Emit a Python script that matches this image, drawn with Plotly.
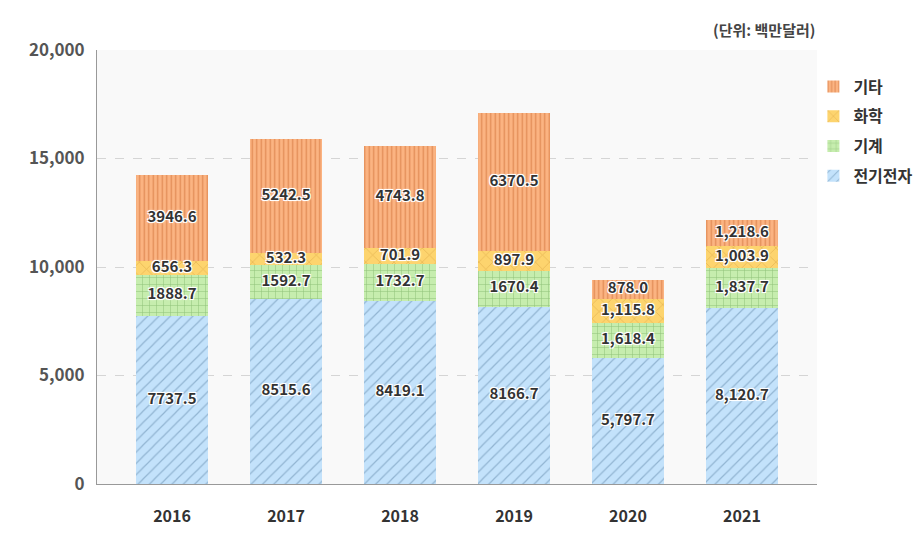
import plotly.graph_objects as go

years = ["2016", "2017", "2018", "2019", "2020", "2021"]
elec = [7737.5, 8515.6, 8419.1, 8166.7, 5797.7, 8120.7]
mach = [1888.7, 1592.7, 1732.7, 1670.4, 1618.4, 1837.7]
chem = [656.3, 532.3, 701.9, 897.9, 1115.8, 1003.9]
etc = [3946.6, 5242.5, 4743.8, 6370.5, 878.0, 1218.6]

elec_lbl = ["7737.5", "8515.6", "8419.1", "8166.7", "5,797.7", "8,120.7"]
mach_lbl = ["1888.7", "1592.7", "1732.7", "1670.4", "1,618.4", "1,837.7"]
chem_lbl = ["656.3", "532.3", "701.9", "897.9", "1,115.8", "1,003.9"]
etc_lbl = ["3946.6", "5242.5", "4743.8", "6370.5", "878.0", "1,218.6"]

series = [
    ("전기전자", elec, elec_lbl, "#c3e2fb", "#5f86a8", "/", 8, 0.15),
    ("기계", mach, mach_lbl, "#c6edae", "#5e9a4a", "+", 7, 0.15),
    ("화학", chem, chem_lbl, "#fdd46e", "#d39a3a", "x", 10, 0.15),
    ("기타", etc, etc_lbl, "#fbb482", "#c8652c", "|", 4.5, 0.3),
]

FONT = "Noto Sans CJK KR"
shadow = "-1px -1px 0 #fff, 1px -1px 0 #fff, -1px 1px 0 #fff, 1px 1px 0 #fff, 0 0 3px #fff"

fig = go.Figure()
base = [0.0] * len(years)
n = len(series)
for i, (name, vals, lbls, bg, fg, shape, size, sol) in enumerate(series):
    fig.add_trace(go.Bar(
        x=list(range(len(years))), y=vals, name=name, width=0.63, legendgroup=name,
        legendrank=1000 - i,
        marker=dict(color=bg, line=dict(width=0),
                    pattern=dict(shape=shape, fgcolor=fg, bgcolor=bg, size=size,
                                 solidity=sol, fillmode="overlay")),
        hoverinfo="skip",
    ))
    mids = [b + v / 2 for b, v in zip(base, vals)]
    fig.add_trace(go.Scatter(
        x=list(range(len(years))), y=mids, mode="text", text=lbls, showlegend=False,
        legendgroup=name, legendrank=1000 - i,
        textfont=dict(family=FONT, size=15, color="#333", shadow=shadow, weight="bold"),
        hoverinfo="skip",
    ))
    base = [b + v for b, v in zip(base, vals)]

fig.update_layout(
    width=921, height=544,
    barmode="stack",
    margin=dict(l=97, r=104, t=50, b=60, autoexpand=False),
    paper_bgcolor="white",
    plot_bgcolor="#f9f9f9",
    font=dict(family=FONT, color="#444"),
    legend=dict(traceorder="grouped", x=0.995, y=0.955, xanchor="left", yanchor="top",
                font=dict(size=16, color="#333", family=FONT, weight="bold"),
                itemwidth=30, tracegroupgap=6, bgcolor="rgba(0,0,0,0)"),
    xaxis=dict(range=[-0.658, 5.658], tickvals=list(range(len(years))), ticktext=years,
               showgrid=False, zeroline=False, showline=True, linecolor="#999", linewidth=1,
               ticks="", tickfont=dict(size=16, color="#333", family=FONT, weight="bold"),
               ticklabelstandoff=18),
    yaxis=dict(range=[0, 20000], tickvals=[0, 5000, 10000, 15000, 20000],
               ticktext=["0", "5,000", "10,000", "15,000", "20,000"],
               showgrid=True, gridcolor="#d5d5d5", griddash="dash", gridwidth=1,
               zeroline=False, showline=True, linecolor="#999", linewidth=1,
               ticks="", tickfont=dict(size=17, color="#555", family=FONT, weight="bold"),
               ticklabelstandoff=8),
    annotations=[dict(text="(단위: 백만달러)", xref="paper", yref="paper", x=1.0, y=1.018,
                      xanchor="right", yanchor="bottom", showarrow=False,
                      font=dict(size=15, color="#444", family=FONT, weight="bold"))],
)

fig.write_html("out.html")
